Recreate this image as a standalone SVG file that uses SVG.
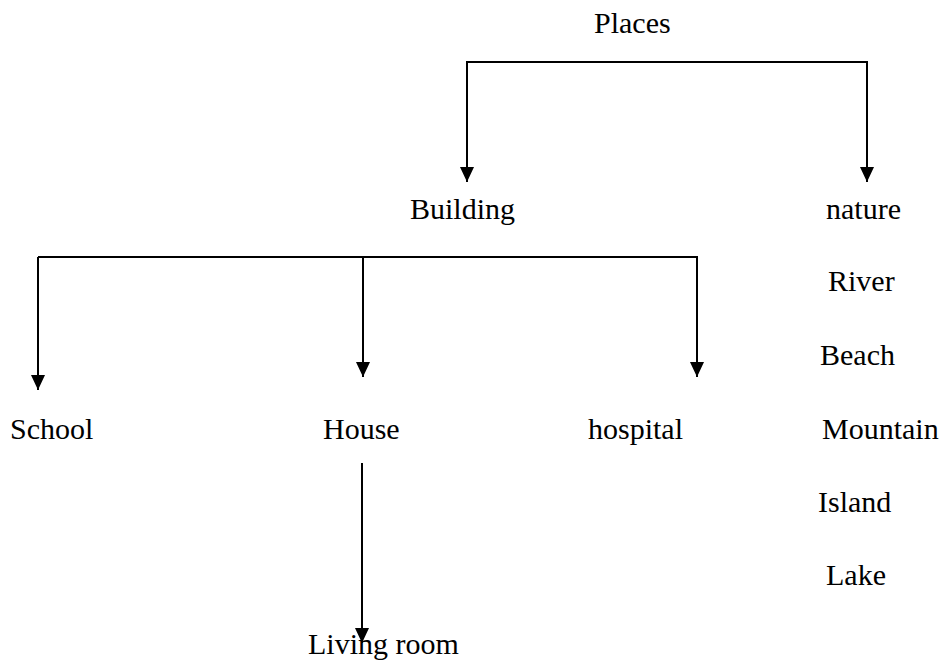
<svg xmlns="http://www.w3.org/2000/svg" width="952" height="666" viewBox="0 0 952 666">
<style>
text{font-family:"Liberation Serif","Times New Roman","DejaVu Serif",serif;font-size:30px;fill:#000}
.c{fill:none;stroke:#000;stroke-width:2}
</style>
<defs>
<marker id="ah" viewBox="0 0 15 14" refX="15" refY="7" markerWidth="15" markerHeight="14" markerUnits="userSpaceOnUse" orient="auto-start-reverse">
<path d="M0,0 L15,7 L0,14 Z" fill="#000"/>
</marker>
</defs>
<rect width="952" height="666" fill="#fff"/>
<g id="connectors">
<polyline class="c" points="467,182 467,62 867,62 867,182" marker-start="url(#ah)" marker-end="url(#ah)"/>
<polyline class="c" points="38,257 697,257 697,377" marker-end="url(#ah)"/>
<line class="c" x1="38" y1="257" x2="38" y2="390" marker-end="url(#ah)"/>
<line class="c" x1="363" y1="257" x2="363" y2="377" marker-end="url(#ah)"/>
<line class="c" x1="362" y1="463" x2="362" y2="643" marker-end="url(#ah)"/>
</g>
<g id="places"><text x="594" y="33" font-family="Liberation Serif, serif">Places</text></g>
<g id="building"><text x="410" y="219" font-family="Liberation Serif, serif">Building</text></g>
<g id="nature"><text x="826" y="219" font-family="Liberation Serif, serif">nature</text></g>
<g id="school"><text x="10" y="439" font-family="Liberation Serif, serif">School</text></g>
<g id="house"><text x="323" y="439" font-family="Liberation Serif, serif">House</text></g>
<g id="hospital"><text x="588" y="439" font-family="Liberation Serif, serif">hospital</text></g>
<g id="living-room"><text x="308" y="654" font-family="Liberation Serif, serif">Living room</text></g>
<g id="river"><text x="828" y="291" font-family="Liberation Serif, serif">River</text></g>
<g id="beach"><text x="820" y="365" font-family="Liberation Serif, serif">Beach</text></g>
<g id="mountain"><text x="822" y="439" font-family="Liberation Serif, serif">Mountain</text></g>
<g id="island"><text x="818" y="512" font-family="Liberation Serif, serif">Island</text></g>
<g id="lake"><text x="826" y="585" font-family="Liberation Serif, serif">Lake</text></g>
</svg>
